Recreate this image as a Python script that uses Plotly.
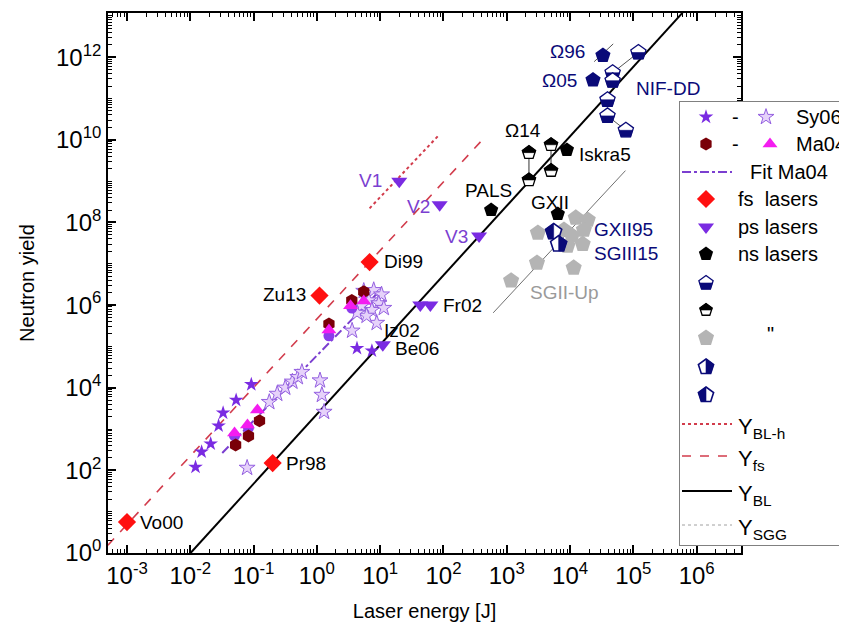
import math
import plotly.graph_objects as go

# ---------------- data ----------------
fs_x = [1.0e-3, 0.2, 1.1, 6.8]
fs_y = [5.6, 150, 1.7e6, 1.1e7]
fs_lab = ["Vo00", "Pr98", "Zu13", "Di99"]

ps_x = [20, 87, 365, 43, 62, 11]
ps_y = [1.0e9, 2.7e8, 4.7e7, 1.0e6, 1.0e6, 1.1e5]
ps_lab = ["V1", "V2", "V3", "Iz02", "Fr02", "Be06"]

ns_x = [566, 6400, 8900]
ns_y = [2.0e8, 1.6e8, 5.7e9]
ns_lab = ["PALS", "GXII", "Iskra5"]

omega_x = [3.3e4, 2.3e4]
omega_y = [1.1e12, 2.8e11]
omega_lab = ["Ω96", "Ω05"]
om96_seg_x = [2.4e4, 4.8e4]
om96_seg_y = [7.8e11, 2.1e12]

om14_x = [2240, 2240, 5000, 5000]
om14_y = [4.9e9, 1.07e9, 7.6e9, 1.8e9]

nif_x = [1.2e5, 4.7e4, 4.7e4, 3.9e4, 3.9e4, 7.6e4]
nif_y = [1.3e12, 4.2e11, 2.7e11, 9.3e10, 3.8e10, 1.7e10]

sgii_x = [1170, 3000, 11400, 3100, 8000, 12300, 19000, 10700, 16500, 9100, 15800]
sgii_y = [3.9e6, 1.05e7, 8.0e6, 5.6e7, 6.6e7, 1.3e8, 1.15e8, 4.8e7, 6.6e7, 2.7e7, 3.0e7]

gxii95_x = [5500]
gxii95_y = [5.9e7]
sgiii15_x = [6600]
sgiii15_y = [3.0e7]

sy_f_x = [0.0121, 0.0151, 0.021, 0.028, 0.033, 0.053, 0.092, 4.3, 7.4]
sy_f_y = [120, 280, 440, 1200, 2460, 5000, 1.2e4, 9.0e4, 7.8e4]

sy_o_x = [0.079, 0.177, 0.236, 0.316, 0.41, 0.5, 0.58, 1.12, 1.2, 1.3, 3.6, 8.8,
          5.5, 7.9, 10.5, 6.6, 9.5, 5.1, 7.4, 6.1, 4.3, 11.4]
sy_o_y = [115, 4500, 7100, 1.0e4, 1.4e4, 1.8e4, 2.4e4, 1.5e4, 6700, 2600, 2.4e5, 3.7e5,
          2.2e6, 2.3e6, 1.8e6, 1.3e6, 1.1e6, 9.6e5, 7.6e5, 5.5e5, 6.5e5, 8.5e5]

ma_hex_x = [0.052, 0.083, 0.124, 1.55, 3.56, 5.5]
ma_hex_y = [410, 680, 1580, 3.5e5, 1.3e6, 2.1e6]
ma_tri_x = [0.05, 0.08, 0.115, 1.55, 3.4, 5.5]
ma_tri_y = [800, 1250, 2900, 2.5e5, 9.6e5, 1.26e6]
ma_circ_x = [0.05, 0.083, 1.55, 3.56]
ma_circ_y = [680, 1070, 1.8e5, 8.5e5]

fit_x = [0.032, 9.5]
fit_y = [263, 2.1e6]
ybl_x = [0.0101, 6.0e5]
ybl_y = [1.0, 1.2e13]
yfs_x = [5.0e-4, 473]
yfs_y = [1.55, 1.26e10]
yblh_x = [6.8, 83]
yblh_y = [2.2e8, 1.26e10]
ysgg_x = [610, 7.5e4]
ysgg_y = [6.5e5, 1.8e9]

x_tickvals = [10.0 ** k for k in range(-3, 7)]
x_ticktext = ["10<sup>%d</sup>" % k for k in range(-3, 7)]
y_tickvals = [10.0 ** k for k in range(0, 13, 2)]
y_ticktext = ["10<sup>%d</sup>" % k for k in range(0, 13, 2)]

# ---------------- styles ----------------
RED = "#FF1010"
PURPLE = "#7A2BE2"
LAV_FILL = "#E6D2FA"
LAV_LINE = "#9460E0"
DARKRED = "#7A0008"
MAGENTA = "#F41CF0"
NAVY = "#0A0A78"
GRAY = "#B4B4B4"
LINE_RED = "#D23C4C"
FONT = "Liberation Sans, Arial, sans-serif"

fig = go.Figure()
shapes = []


def sc(x, y, **kw):
    fig.add_trace(go.Scatter(x=x, y=y, showlegend=False, hoverinfo="skip", **kw))


# ---- two-tone pentagon glyphs (pixel-sized shapes anchored at data points) ----
C1, C2, C3, C4 = 0.951, 0.309, 0.588, 0.809
CM = 0.851  # half-width at the centre line


def poly(pts):
    return "M " + " L ".join("%.2f,%.2f" % p for p in pts) + " Z"


def pent_parts(r):
    full = [(0, r), (C1 * r, C2 * r), (C3 * r, -C4 * r), (-C3 * r, -C4 * r), (-C1 * r, C2 * r)]
    bottom = [(-CM * r, 0), (CM * r, 0), (C3 * r, -C4 * r), (-C3 * r, -C4 * r)]
    top = [(0, r), (C1 * r, C2 * r), (CM * r, 0), (-CM * r, 0), (-C1 * r, C2 * r)]
    left = [(0, r), (-C1 * r, C2 * r), (-C3 * r, -C4 * r), (0, -C4 * r)]
    right = [(0, r), (C1 * r, C2 * r), (C3 * r, -C4 * r), (0, -C4 * r)]
    return dict(full=full, bottom=bottom, top=top, left=left, right=right)


def two_tone(x, y, r, half, color, xref="x", yref="y", lw=1.3):
    parts = pent_parts(r)
    base = dict(type="path", xref=xref, yref=yref, xsizemode="pixel", ysizemode="pixel",
                xanchor=x, yanchor=y, layer="above")
    shapes.append(dict(base, path=poly(parts["full"]), fillcolor="white", line=dict(color=color, width=lw)))
    shapes.append(dict(base, path=poly(parts[half]), fillcolor=color, line=dict(color=color, width=0.6)))


# lines
sc(ybl_x, ybl_y, mode="lines", line=dict(color="black", width=2))
sc(yfs_x, yfs_y, mode="lines", line=dict(color=LINE_RED, width=1.6, dash="dash"))
sc(yblh_x, yblh_y, mode="lines", line=dict(color=LINE_RED, width=2, dash="dot"))
sc(ysgg_x, ysgg_y, mode="lines", line=dict(color="#707070", width=1))
sc(fit_x, fit_y, mode="lines", line=dict(color="#7B3FD0", width=2, dash="dashdot"))

# connectors
sc([nif_x[0], nif_x[1], None, nif_x[4], nif_x[5]],
   [nif_y[0], nif_y[1], None, nif_y[4], nif_y[5]], mode="lines",
   line=dict(color="#555", width=1))
sc([om14_x[0], om14_x[1], None, om14_x[2], om14_x[3]],
   [om14_y[0], om14_y[1], None, om14_y[2], om14_y[3]], mode="lines",
   line=dict(color="#333", width=1))
sc(om96_seg_x, om96_seg_y, mode="lines", line=dict(color="#555", width=1))

# markers
sc(sgii_x, sgii_y, mode="markers", marker=dict(symbol="pentagon", size=17, color=GRAY, line=dict(width=0)))
sc(sy_o_x, sy_o_y, mode="markers", marker=dict(symbol="star", size=12, color=LAV_FILL, line=dict(color=LAV_LINE, width=1)))
sc(sy_f_x, sy_f_y, mode="markers", marker=dict(symbol="star", size=11, color=PURPLE, line=dict(width=0)))
sc(ma_circ_x, ma_circ_y, mode="markers", marker=dict(symbol="circle", size=11, color="#8A3CEB", line=dict(width=0)))
sc(ma_hex_x, ma_hex_y, mode="markers", marker=dict(symbol="hexagon", size=13, color=DARKRED, line=dict(width=0)))
sc(ma_tri_x, ma_tri_y, mode="markers", marker=dict(symbol="triangle-up", size=13, color=MAGENTA, line=dict(width=0)))
sc(fs_x, fs_y, mode="markers", marker=dict(symbol="diamond", size=14, color=RED, line=dict(width=0)))
sc(ps_x, ps_y, mode="markers", marker=dict(symbol="triangle-down", size=14, color=PURPLE, line=dict(width=0)))
sc(ns_x, ns_y, mode="markers", marker=dict(symbol="pentagon", size=15, color="black", line=dict(width=0)))
sc(omega_x, omega_y, mode="markers", marker=dict(symbol="pentagon", size=16, color=NAVY, line=dict(width=0)))

for xv, yv in zip(om14_x, om14_y):
    two_tone(xv, yv, 7, "top", "black")
for xv, yv in zip(nif_x, nif_y):
    two_tone(xv, yv, 8, "bottom", NAVY)
for xv, yv in zip(gxii95_x, gxii95_y):
    two_tone(xv, yv, 8.5, "left", NAVY, lw=1.6)
for xv, yv in zip(sgiii15_x, sgiii15_y):
    two_tone(xv, yv, 8.5, "right", NAVY, lw=1.6)

# ---------------- labels ----------------
ann = []


def lab(text, x, y, dx, dy, anchor="left", color="black", size=19):
    ann.append(dict(text=text, x=math.log10(x), y=math.log10(y), xref="x", yref="y",
                    xshift=dx, yshift=dy, xanchor=anchor, yanchor="middle", showarrow=False,
                    font=dict(family=FONT, size=size, color=color)))


lab(fs_lab[0], fs_x[0], fs_y[0], 11, 0)
lab(fs_lab[1], fs_x[1], fs_y[1], 11, 0)
lab(fs_lab[2], fs_x[2], fs_y[2], -12, 1, "right")
lab(fs_lab[3], fs_x[3], fs_y[3], 12, 1)
lab(ps_lab[0], ps_x[0], ps_y[0], -15, 1, "right", "#7B3FD0")
lab(ps_lab[1], ps_x[1], ps_y[1], -8, -2, "right", "#7B3FD0")
lab(ps_lab[2], ps_x[2], ps_y[2], -9, 0, "right", "#7B3FD0")
lab(ps_lab[3], ps_x[3], ps_y[3], -18, -25, "center")
lab(ps_lab[4], ps_x[4], ps_y[4], 11, 0)
lab(ps_lab[5], ps_x[5], ps_y[5], 10, -4)
lab(ns_lab[0], ns_x[0], ns_y[0], -3, 20, "center")
lab(ns_lab[1], ns_x[1], ns_y[1], -8, 12, "center")
lab(ns_lab[2], ns_x[2], ns_y[2], 10, -5)
lab("Ω14", om14_x[0], om14_y[0], -6, 22, "center")
lab(omega_lab[0], omega_x[0], omega_y[0], -16, 4, "right", NAVY)
lab(omega_lab[1], omega_x[1], omega_y[1], -14, 0, "right", NAVY)
lab("NIF-DD", nif_x[3], nif_y[3], 26, 11, "left", NAVY)
lab("GXII95", gxii95_x[0], gxii95_y[0], 38, 2, "left", NAVY)
lab("SGIII15", sgiii15_x[0], sgiii15_y[0], 33, -9, "left", NAVY)
lab("SGII-Up", sgii_x[2], sgii_y[2], -9, -25, "center", "#9A9A9A")

# ---------------- custom legend (in its own small axes, pixel-like units) ----------------
L = dict(xaxis="x2", yaxis="y2", showlegend=False, hoverinfo="skip")
leg_rows = [109, 136, 164, 191, 219, 246, 275, 302, 330, 359, 387, 416, 448, 483, 517]
mk_x = 698
fig.add_trace(go.Scatter(x=[mk_x], y=[leg_rows[0]], mode="markers",
              marker=dict(symbol="star", size=11, color=PURPLE, line=dict(width=0)), **L))
fig.add_trace(go.Scatter(x=[758], y=[leg_rows[0]], mode="markers",
              marker=dict(symbol="star", size=12, color=LAV_FILL, line=dict(color=LAV_LINE, width=1)), **L))
fig.add_trace(go.Scatter(x=[mk_x], y=[leg_rows[1]], mode="markers",
              marker=dict(symbol="hexagon", size=13, color=DARKRED, line=dict(width=0)), **L))
fig.add_trace(go.Scatter(x=[762], y=[leg_rows[1]], mode="markers",
              marker=dict(symbol="triangle-up", size=13, color=MAGENTA, line=dict(width=0)), **L))
fig.add_trace(go.Scatter(x=[674, 724], y=[leg_rows[2]] * 2, mode="lines",
              line=dict(color="#7B3FD0", width=2, dash="dashdot"), **L))
fig.add_trace(go.Scatter(x=[mk_x], y=[leg_rows[3]], mode="markers",
              marker=dict(symbol="diamond", size=14, color=RED, line=dict(width=0)), **L))
fig.add_trace(go.Scatter(x=[mk_x], y=[leg_rows[4]], mode="markers",
              marker=dict(symbol="triangle-down", size=14, color=PURPLE, line=dict(width=0)), **L))
fig.add_trace(go.Scatter(x=[mk_x], y=[leg_rows[5]], mode="markers",
              marker=dict(symbol="pentagon", size=15, color="black", line=dict(width=0)), **L))
fig.add_trace(go.Scatter(x=[mk_x], y=[leg_rows[8]], mode="markers",
              marker=dict(symbol="pentagon", size=17, color=GRAY, line=dict(width=0)), **L))
two_tone(mk_x, leg_rows[6], 7.5, "bottom", NAVY, "x2", "y2")
two_tone(mk_x, leg_rows[7], 6.5, "top", "black", "x2", "y2")
two_tone(mk_x, leg_rows[9], 8, "right", NAVY, "x2", "y2", lw=1.6)
two_tone(mk_x, leg_rows[10], 8, "left", NAVY, "x2", "y2", lw=1.6)
fig.add_trace(go.Scatter(x=[674, 724], y=[leg_rows[11]] * 2, mode="lines",
              line=dict(color=LINE_RED, width=2, dash="dot"), **L))
fig.add_trace(go.Scatter(x=[674, 724], y=[leg_rows[12]] * 2, mode="lines",
              line=dict(color=LINE_RED, width=1.6, dash="dash"), **L))
fig.add_trace(go.Scatter(x=[674, 724], y=[leg_rows[13]] * 2, mode="lines",
              line=dict(color="black", width=2), **L))
fig.add_trace(go.Scatter(x=[674, 724], y=[leg_rows[14]] * 2, mode="lines",
              line=dict(color="#A0A0A0", width=1, dash="dot"), **L))


def ltxt(text, x, y, size=20, anchor="left"):
    ann.append(dict(text=text, x=x, y=y, xref="x2", yref="y2", xanchor=anchor, yanchor="middle",
                    showarrow=False, font=dict(family=FONT, size=size, color="black")))


ltxt("-", 727, leg_rows[0], anchor="center")
ltxt("Sy06", 786, leg_rows[0])
ltxt("-", 727, leg_rows[1], anchor="center")
ltxt("Ma04", 786, leg_rows[1])
ltxt("Fit Ma04", 740, leg_rows[2])
ltxt("fs  lasers", 728, leg_rows[3])
ltxt("ps lasers", 728, leg_rows[4])
ltxt("ns lasers", 728, leg_rows[5])
ltxt("\"", 762, leg_rows[8] - 4, anchor="center")
ltxt("Y<sub>BL-h</sub>", 728, leg_rows[11] + 4, size=22)
ltxt("Y<sub>fs</sub>", 728, leg_rows[12] + 4, size=22)
ltxt("Y<sub>BL</sub>", 728, leg_rows[13] + 4, size=22)
ltxt("Y<sub>SGG</sub>", 728, leg_rows[14] + 4, size=22)

# ---------------- layout ----------------
W, H = 847, 630
ML, MR, MT, MB = 100, 4, 5, 85
PW = W - ML - MR
PH = H - MT - MB
x_right_px = 733
leg_left, leg_right, leg_top, leg_bot = 672, 843, 94, 537

minor_x = [m * 10.0 ** k for k in range(-4, 7) for m in range(2, 10)]
minor_y = [m * 10.0 ** k for k in range(0, 14) for m in range(1, 10) if not (m == 1 and k % 2 == 0)]

axis_common = dict(type="log", showgrid=False, zeroline=False, showline=True, linecolor="black",
                   linewidth=1.6, mirror="ticks", ticks="inside", ticklen=8, tickwidth=1.5,
                   tickcolor="black", tickmode="array", automargin=False,
                   tickfont=dict(family=FONT, size=24, color="black"),
                   minor=dict(ticks="inside", ticklen=4, tickwidth=1, tickcolor="black", showgrid=False))

xa = dict(axis_common)
xa.update(range=[-3.3, 6.70], domain=[0, (x_right_px - ML) / PW],
          tickvals=x_tickvals, ticktext=x_ticktext,
          title=dict(text="Laser energy [J]", font=dict(family=FONT, size=20, color="black"), standoff=16))
xa["minor"] = dict(axis_common["minor"], tickvals=minor_x)
ya = dict(axis_common)
ya.update(range=[0, 13.07], tickvals=y_tickvals, ticktext=y_ticktext,
          title=dict(text="Neutron yield", font=dict(family=FONT, size=20, color="black"), standoff=16))
ya["minor"] = dict(axis_common["minor"], tickvals=minor_y)

fig.update_layout(
    width=W, height=H, margin=dict(l=ML, r=MR, t=MT, b=MB, autoexpand=False),
    paper_bgcolor="white", plot_bgcolor="white",
    font=dict(family=FONT, color="black"),
    xaxis=xa, yaxis=ya,
    xaxis2=dict(domain=[(leg_left - ML) / PW, (leg_right - ML) / PW], range=[leg_left, leg_right],
                anchor="y2", showline=True, mirror=True, linecolor="#808080", linewidth=1.3, automargin=False,
                showgrid=False, zeroline=False, showticklabels=False, ticks="", fixedrange=True),
    yaxis2=dict(domain=[(H - MB - leg_bot) / PH, (H - MB - leg_top) / PH], range=[leg_bot, leg_top],
                anchor="x2", showline=True, mirror=True, linecolor="#808080", linewidth=1.3, automargin=False,
                showgrid=False, zeroline=False, showticklabels=False, ticks="", fixedrange=True),
    annotations=ann,
    shapes=shapes,
    showlegend=False,
)

fig.write_html("out.html")
